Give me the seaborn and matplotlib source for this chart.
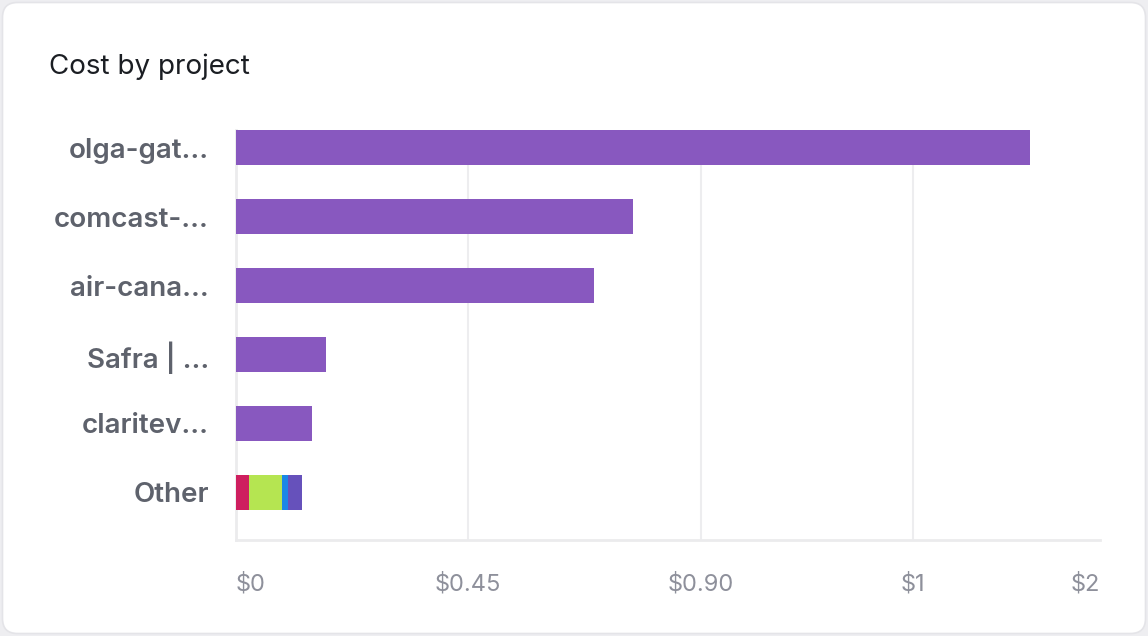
import matplotlib
matplotlib.use("Agg")
import matplotlib.pyplot as plt
from matplotlib.patches import FancyBboxPatch
import seaborn as sns
import pandas as pd

# Data
projects = ["olga-gat...", "comcast-...", "air-cana...", "Safra | ...", "claritev...", "Other"]
costs = [1.535, 0.769, 0.692, 0.175, 0.148]
other_parts = [0.027, 0.062, 0.012, 0.027]
other_colors = ["#CE1F5F", "#B5E551", "#1A87E6", "#6651BB"]
tick_vals = [0, 0.45, 0.90, 1.31, 1.671]
tick_labels = ["$0", "$0.45", "$0.90", "$1", "$2"]

BAR = "#8858BF"
FONT = ["Inter", "DejaVu Sans"]

sns.set_theme(style="white")
plt.rcParams["font.family"] = FONT

fig = plt.figure(figsize=(11.48, 6.36), dpi=100)
fig.patch.set_facecolor("#EEEEF1")
card = FancyBboxPatch((2.5 / 1148, 2.5 / 636), 1143 / 1148, 631 / 636,
                      boxstyle="round,pad=0,rounding_size=0.013",
                      transform=fig.transFigure, facecolor="white",
                      edgecolor="#E4E4E8", linewidth=1.2, zorder=-10,
                      mutation_aspect=1148 / 636)
fig.patches.append(card)

fig.text(49 / 1148, 1 - 67 / 636, "Cost by project", fontsize=20, color="#1B1E23",
         va="center", ha="left")

ax = fig.add_axes([235.5 / 1148, 96 / 636, 864.5 / 1148, 410 / 636])
ax.set_facecolor("none")

main = pd.DataFrame({"project": projects[:-1], "cost": costs})
sns.barplot(data=main, x="cost", y="project", order=projects, color=BAR,
            width=0.51, saturation=1, linewidth=0, ax=ax, zorder=3)

# stacked "Other" bar: draw cumulative totals from largest to smallest
cum = pd.Series(other_parts).cumsum().tolist()
for total, col in reversed(list(zip(cum, other_colors))):
    sns.barplot(x=[total], y=["Other"], order=projects, color=col,
                width=0.51, saturation=1, linewidth=0, ax=ax, zorder=3)

ax.set_xlim(0, tick_vals[-1])
ax.set_ylim(5.69, -0.255)
ax.set_xlabel("")
ax.set_ylabel("")

for v in tick_vals[1:-1]:
    ax.axvline(v, color="#EDEDEF", lw=1.5, zorder=1)

for s in ["top", "right"]:
    ax.spines[s].set_visible(False)
for s in ["left", "bottom"]:
    ax.spines[s].set_color("#EBEBED")
    ax.spines[s].set_linewidth(2)

ax.set_xticks(tick_vals)
ax.set_xticklabels(tick_labels)
ax.tick_params(axis="x", length=0, pad=24, labelsize=17, labelcolor="#8E909B")
xl = ax.get_xticklabels()
xl[0].set_ha("left")
xl[-1].set_ha("right")
ax.tick_params(axis="y", length=0, pad=19, labelsize=20, labelcolor="#5E626C")
for t in ax.get_yticklabels():
    t.set_fontweight("semibold")

fig.savefig("out.png", dpi=100, facecolor=fig.get_facecolor())
